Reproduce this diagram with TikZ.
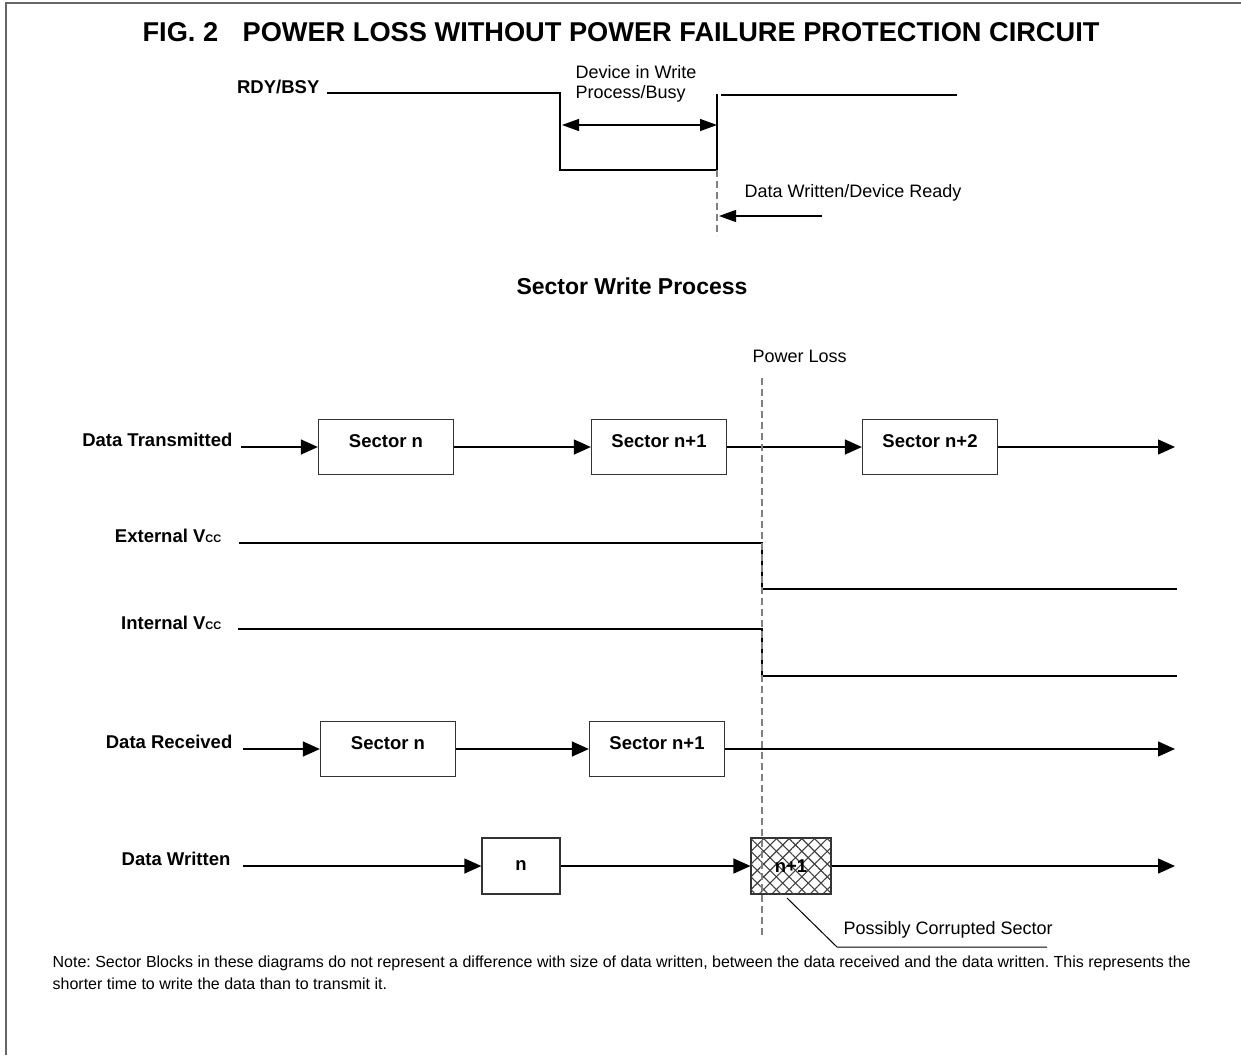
\documentclass[tikz,border=0pt]{standalone}
\usepackage{fontspec}
\setmainfont{Liberation Sans}
\usepackage{tikz}
\usetikzlibrary{arrows.meta,patterns.meta}
\newcommand\subcc{{\fontsize{11}{11}\selectfont CC}}
\frenchspacing
\begin{document}
\begin{tikzpicture}[x=1pt,y=-1pt,line width=1.3pt,>={Triangle[length=17pt,width=15pt]},every node/.style={inner sep=0pt},
lbl/.style={font=\fontsize{18.5}{20}\selectfont\bfseries,anchor=base east},
txt/.style={font=\fontsize{18}{20}\selectfont,anchor=base west},
sect/.style={draw=black!80,minimum width=135pt,minimum height=55pt,font=\fontsize{18.5}{20}\selectfont\bfseries,text height=13pt,text depth=13pt},
blk/.style={draw=black!80,minimum width=78pt,minimum height=56pt,font=\fontsize{18.5}{20}\selectfont\bfseries},
dashline/.style={draw=black!50,dash pattern=on 7pt off 4pt,line width=1.2pt},
slim/.style={>={Triangle[length=17pt,width=12pt]}}]
\useasboundingbox (0,0) rectangle (1241,1055);
\draw[black!60,line width=2pt] (6,1055) -- (6,3) -- (1241,3);
\node(title) at (621,32){\fontsize{27.2}{30}\selectfont\bfseries FIG. 2\hspace{0.9em}POWER LOSS WITHOUT POWER FAILURE PROTECTION CIRCUIT};
\node[lbl](rdy) at (320,93){RDY/BSY};
\draw (327,93) -- (560,93) -- (560,170) -- (717,170) -- (717,94);
\draw (721,95) -- (957,95);
\draw[dashline] (717,170) -- (717,236);
\draw[slim,<->] (562,125) -- (717,125);
\node[txt,anchor=north west,align=left](busy) at (575,65){Device in Write\\Process/Busy};
\node[txt](ready) at (744,197){Data Written/Device Ready};
\draw[slim,->] (822,216) -- (719,216);
\node[font=\fontsize{23}{26}\selectfont\bfseries,anchor=base](swp) at (632,294){Sector Write Process};
\node[txt](loss) at (752,362){Power Loss};
\node[lbl](dtx) at (233,446){Data Transmitted};
\coordinate(dtx0) at (241,447);\coordinate(dtx9) at (1175,447);
\node[sect](tx1) at (386,447){Sector n};\node[sect](tx2) at (659,447){Sector n+1};\node[sect](tx3) at (930,447){Sector n+2};
\draw[->](dtx0)--(tx1);\draw[->](tx1)--(tx2);\draw[->](tx2)--(tx3);\draw[->](tx3)--(dtx9);
\node[lbl](ext) at (222,542){External V\subcc};
\draw (239,543) -- (762,543) -- (762,589) -- (1177,589);
\node[lbl](int) at (222,629){Internal V\subcc};
\draw (238,629) -- (762,629) -- (762,676) -- (1177,676);
\node[lbl](drx) at (233,748){Data Received};
\coordinate(drx0) at (243,749);\coordinate(drx9) at (1175,749);
\node[sect](rx1) at (388,749){Sector n};\node[sect](rx2) at (657,749){Sector n+1};
\draw[->](drx0)--(rx1);\draw[->](rx1)--(rx2);\draw[->](rx2)--(drx9);
\node[lbl](dwr) at (231,865){Data Written};
\coordinate(dwr0) at (243,866);\coordinate(dwr9) at (1175,866);
\node[blk](wr1) at (521,866){n};
\node[blk,minimum width=80pt,pattern={Lines[angle=45,distance=9pt,line width=1.1pt]},pattern color=black!75,
  postaction={pattern={Lines[angle=-45,distance=9pt,line width=1.1pt]},pattern color=black!75}](wr2) at (791,866){n+1};
\draw[->](dwr0)--(wr1);\draw[->](wr1)--(wr2);\draw[->](wr2)--(dwr9);
\draw[dashline] (762,378) -- (762,935);
\coordinate(cor0) at (787,898);
\draw[line width=1pt] (cor0) -- (837,947) -- (1047,947);
\node[txt](cor) at (843,934){Possibly Corrupted Sector};
\node[anchor=west,align=left,font=\fontsize{16}{22}\selectfont](note) at (52,973){Note: Sector Blocks in these diagrams do not represent a difference with size of data written, between the data received and the data written. This represents the\\shorter time to write the data than to transmit it.};
\end{tikzpicture}
\end{document}
